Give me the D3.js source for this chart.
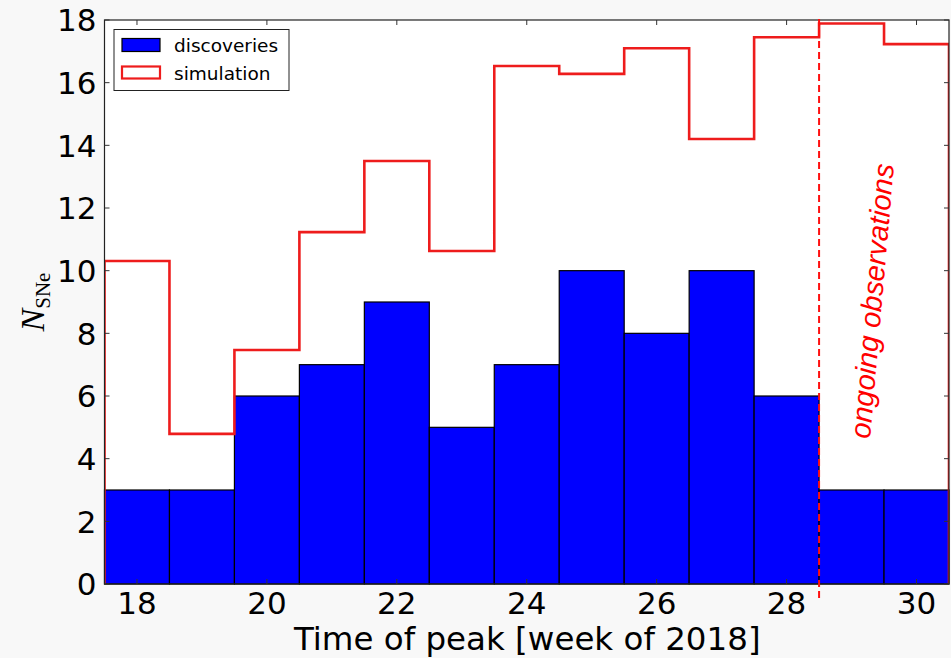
<!DOCTYPE html>
<html>
<head>
<meta charset="utf-8">
<script src="https://cdn.jsdelivr.net/npm/d3@7"></script>
<style>
  html, body { margin: 0; padding: 0; background: #f8f8f8; }
  svg { display: block; }
</style>
</head>
<body>
<svg id="chart" width="951" height="658"></svg>
<script>
// Weekly bins (bin centres, weeks of 2018)
const weeks = [18, 19, 20, 21, 22, 23, 24, 25, 26, 27, 28, 29, 30];
// Observed supernova discoveries per week
const discoveries = [3, 3, 6, 7, 9, 5, 7, 10, 8, 10, 6, 3, 3];
// Simulated expectation per week
const simulation = [10.31, 4.79, 7.47, 11.23, 13.5, 10.63, 16.53, 16.28, 17.1, 14.2, 17.45, 17.89, 17.23];
const xTicks = [18, 20, 22, 24, 26, 28, 30];
const yTicks = [0, 2, 4, 6, 8, 10, 12, 14, 16, 18];
const ongoingStart = 28.5;

const svg = d3.select("#chart");
const m = { left: 104.5, top: 20, right: 949, bottom: 584 };
const W = m.right - m.left, H = m.bottom - m.top;

const x = d3.scaleLinear().domain([17.5, 30.5]).range([m.left, m.right]);
const y = d3.scaleLinear().domain([0, 18]).range([m.bottom, m.top]);

svg.append("rect").attr("x", m.left).attr("y", m.top)
  .attr("width", W).attr("height", H).attr("fill", "#fff");

svg.append("clipPath").attr("id", "plotclip")
  .append("rect").attr("x", m.left).attr("y", m.top - 3).attr("width", W).attr("height", H + 3);

// Discovery histogram
svg.append("g").selectAll("rect").data(weeks).join("rect")
  .attr("x", (d) => x(d - 0.5))
  .attr("y", (d, i) => y(discoveries[i]))
  .attr("width", (d) => x(d + 0.5) - x(d - 0.5))
  .attr("height", (d, i) => y(0) - y(discoveries[i]))
  .attr("fill", "#0000ff")
  .attr("stroke", "#000")
  .attr("stroke-width", 1.2);

// Simulation step outline
const pts = [];
weeks.forEach((w, i) => {
  pts.push([w - 0.5, simulation[i]]);
  pts.push([w + 0.5, simulation[i]]);
});
pts.unshift([weeks[0] - 0.5, 0]);
pts.push([weeks[weeks.length - 1] + 0.5, 0]);
svg.append("path")
  .attr("clip-path", "url(#plotclip)")
  .attr("d", d3.line().x((d) => x(d[0])).y((d) => y(d[1]))(pts))
  .attr("fill", "none")
  .attr("stroke", "#ee1c1c")
  .attr("stroke-width", 2.6)
  .attr("stroke-linejoin", "miter");

// Axes frame
svg.append("rect").attr("x", m.left).attr("y", m.top)
  .attr("width", W).attr("height", H)
  .attr("fill", "none").attr("stroke", "#222").attr("stroke-width", 1.2);

// Ticks pointing inward on all four sides
const tickLen = 5;
const tg = svg.append("g").attr("stroke", "#333").attr("stroke-width", 1);
xTicks.forEach((t) => {
  tg.append("line").attr("x1", x(t)).attr("x2", x(t)).attr("y1", m.bottom).attr("y2", m.bottom - tickLen);
  tg.append("line").attr("x1", x(t)).attr("x2", x(t)).attr("y1", m.top).attr("y2", m.top + tickLen);
});
yTicks.forEach((t) => {
  tg.append("line").attr("x1", m.left).attr("x2", m.left + tickLen).attr("y1", y(t)).attr("y2", y(t));
  tg.append("line").attr("x1", m.right).attr("x2", m.right - tickLen).attr("y1", y(t)).attr("y2", y(t));
});

// Tick labels
const tickFont = "DejaVu Sans";
svg.append("g").selectAll("text").data(xTicks).join("text")
  .attr("x", (d) => x(d)).attr("y", m.bottom + 30)
  .attr("text-anchor", "middle")
  .attr("font-family", tickFont).attr("font-size", 31).attr("fill", "#000")
  .text((d) => d);
svg.append("g").selectAll("text").data(yTicks).join("text")
  .attr("x", m.left - 8).attr("y", (d) => y(d) + 11.3)
  .attr("text-anchor", "end")
  .attr("font-family", tickFont).attr("font-size", 31).attr("fill", "#000")
  .text((d) => d);

// Axis titles
svg.append("text")
  .attr("x", (m.left + m.right) / 2 + 0.5).attr("y", 650)
  .attr("text-anchor", "middle")
  .attr("font-family", tickFont).attr("font-size", 32.5).attr("fill", "#000")
  .text("Time of peak [week of 2018]");

const yl = svg.append("text")
  .attr("transform", "translate(44, 302) rotate(-90)")
  .attr("text-anchor", "middle")
  .attr("font-family", "Liberation Serif, DejaVu Serif, serif").attr("fill", "#000");
yl.append("tspan").attr("font-style", "italic").attr("font-size", 34).text("N");
yl.append("tspan").attr("font-size", 21).attr("dy", 6).text("SNe");

// Start of ongoing observations
svg.append("line")
  .attr("x1", x(ongoingStart)).attr("x2", x(ongoingStart))
  .attr("y1", m.top - 1).attr("y2", m.bottom + 14)
  .attr("stroke", "#ff1010").attr("stroke-width", 2)
  .attr("stroke-dasharray", "7,4");

svg.append("text")
  .attr("transform", "translate(882, 302) rotate(-85)")
  .attr("text-anchor", "middle")
  .attr("font-family", "Liberation Sans, Arial, sans-serif")
  .attr("font-style", "italic").attr("font-size", 29).attr("fill", "#ff0000")
  .text("ongoing observations");

// Legend
const lg = svg.append("g");
lg.append("rect").attr("x", 114).attr("y", 29.5).attr("width", 175).attr("height", 61)
  .attr("fill", "#fff").attr("stroke", "#222").attr("stroke-width", 1);
lg.append("rect").attr("x", 122).attr("y", 38.5).attr("width", 38).attr("height", 13)
  .attr("fill", "#0000ff").attr("stroke", "#000").attr("stroke-width", 1.2);
lg.append("rect").attr("x", 122).attr("y", 66.5).attr("width", 38).attr("height", 12)
  .attr("fill", "none").attr("stroke", "#ee1c1c").attr("stroke-width", 2.2);
lg.append("text").attr("x", 174).attr("y", 52).attr("font-family", tickFont)
  .attr("font-size", 18.5).attr("fill", "#000").text("discoveries");
lg.append("text").attr("x", 174).attr("y", 79.5).attr("font-family", tickFont)
  .attr("font-size", 18.5).attr("fill", "#000").text("simulation");
</script>
</body>
</html>
